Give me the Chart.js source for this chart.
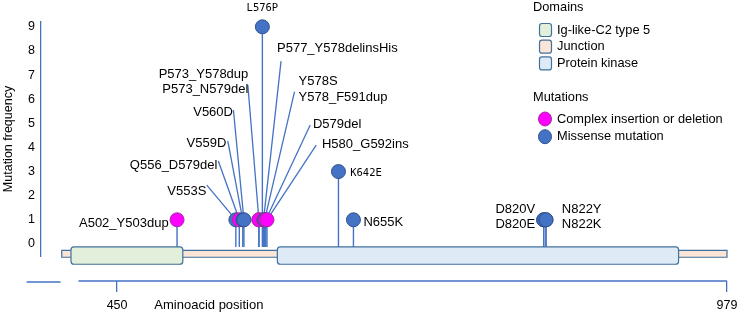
<!DOCTYPE html>
<html><head><meta charset="utf-8">
<script src="https://cdn.jsdelivr.net/npm/chart.js@4/dist/chart.umd.min.js"></script>
<style>html,body{margin:0;padding:0;background:#fff;}</style>
</head><body>
<canvas id="c" width="737" height="314"></canvas>
<script>
// ---------------- data ----------------
const mutationLabels = ["A502_Y503dup","V553S","Q556_D579del","V559D","V560D","P573_N579del","P573_Y578dup","L576P","P577_Y578delinsHis","Y578_F591dup","Y578S","D579del","H580_G592ins","K642E","N655K","D820V","D820E","N822Y","N822K"];
const mutationPositions = [502,553,556,559,560,573,573,576,577,578,578,579,580,642,655,820,820,822,822];
const mutationFrequency = [1,1,1,1,1,1,1,9,1,1,1,1,1,3,1,1,1,1,1];
const mutationTypes = ["complex","missense","complex","missense","missense","complex","complex","missense","complex","complex","missense","complex","complex","missense","missense","missense","missense","missense","missense"];
const typeKeys = ["complex","missense"];
const typeNames = ["Complex insertion or deletion","Missense mutation"];
const domainNames = ["Ig-like-C2 type 5","Junction","Protein kinase"];
const domainStart = [410, 402, 589];
const domainEnd = [507, 979, 937];
const yTickValues = [0,1,2,3,4,5,6,7,8,9];
const xTickValues = [450, 979];

// ---------------- styles / layout ----------------
const BLUE = '#4472C4';
const typeFill = {complex:'#FF00FF', missense:'#4472C4'};
const typeEdge = {complex:'#A52AA5', missense:'#2F528F'};
const domainFill = ['#E2EFDA','#FBE5D6','#DEEBF7'];
const domainEdge = '#41719C';
const FONT = '"Liberation Sans", Arial, sans-serif';
const MONO = '"DejaVu Sans Mono", monospace';
// label annotation placement in data coordinates (aa position, frequency)
const labelPlacement = [
  {lines:["L576P"], at:[576, 9.78], align:'center', mono:true},
  {lines:["P577_Y578delinsHis"], at:[588.7, 8.12], align:'left', leader:[592.2, 7.58], target:"P577_Y578delinsHis"},
  {lines:["P573_Y578dup","P573_N579del"], at:[563.8, 7.04], align:'right', leader:[563.4, 6.59], target:"P573_N579del"},
  {lines:["V560D"], at:[550.5, 5.44], align:'right', leader:[550.9, 5.55], target:"V560D"},
  {lines:["V559D"], at:[544.7, 4.17], align:'right', leader:[546.0, 4.27], target:"V559D"},
  {lines:["Q556_D579del"], at:[536.9, 3.27], align:'right', leader:[537.8, 3.44], target:"Q556_D579del"},
  {lines:["V553S"], at:[527.4, 2.19], align:'right', leader:[527.8, 2.44], target:"V553S"},
  {lines:["Y578S","Y578_F591dup"], at:[607.4, 6.72], align:'left', leader:[603.9, 6.31], target:"Y578S"},
  {lines:["D579del"], at:[619.9, 4.97], align:'left', leader:[617.5, 4.93], target:"D579del"},
  {lines:["H580_G592ins"], at:[627.7, 4.14], align:'left', leader:[622.7, 4.10], target:"H580_G592ins"},
  {lines:["K642E"], at:[652.2, 2.93], align:'left', mono:true},
  {lines:["N655K"], at:[663.7, 0.88], align:'left'},
  {lines:["A502_Y503dup"], at:[494.7, 0.83], align:'right'},
  {lines:["D820V","D820E"], at:[812.6, 1.43], align:'right'},
  {lines:["N822Y","N822K"], at:[835.7, 1.43], align:'left'}
];

function rr(ctx, x, y, w, h, r){
  ctx.beginPath();
  ctx.moveTo(x+r, y); ctx.lineTo(x+w-r, y); ctx.quadraticCurveTo(x+w, y, x+w, y+r);
  ctx.lineTo(x+w, y+h-r); ctx.quadraticCurveTo(x+w, y+h, x+w-r, y+h);
  ctx.lineTo(x+r, y+h); ctx.quadraticCurveTo(x, y+h, x, y+h-r);
  ctx.lineTo(x, y+r); ctx.quadraticCurveTo(x, y, x+r, y); ctx.closePath();
}

const lollipopPlugin = {
  id:'lollipop',
  beforeDatasetsDraw(chart){
    const ctx = chart.ctx, xs = chart.scales.x, ys = chart.scales.y;
    const y0 = ys.getPixelForValue(0);
    ctx.save();
    // stems
    ctx.strokeStyle = BLUE; ctx.lineWidth = 1.4;
    mutationPositions.forEach((p,i)=>{
      const px = xs.getPixelForValue(p), py = ys.getPixelForValue(mutationFrequency[i]);
      ctx.beginPath(); ctx.moveTo(px, py); ctx.lineTo(px, y0+3); ctx.stroke();
    });
    // leaders
    ctx.lineWidth = 1.3;
    labelPlacement.forEach(g=>{
      if(!g.leader) return;
      const k = mutationLabels.indexOf(g.target);
      ctx.beginPath();
      ctx.moveTo(xs.getPixelForValue(g.leader[0]), ys.getPixelForValue(g.leader[1]));
      ctx.lineTo(xs.getPixelForValue(mutationPositions[k]), ys.getPixelForValue(mutationFrequency[k]));
      ctx.stroke();
    });
    // track: backbone (Junction) then domain boxes
    ctx.lineWidth = 1.2; ctx.strokeStyle = domainEdge;
    const j = domainNames.indexOf('Junction');
    const b1 = xs.getPixelForValue(domainStart[j]), b2 = xs.getPixelForValue(domainEnd[j]);
    ctx.fillStyle = domainFill[j];
    ctx.beginPath(); ctx.rect(b1, y0+6.5, b2-b1, 6.8); ctx.fill(); ctx.stroke();
    domainNames.forEach((n,i)=>{
      if(i===j) return;
      const a = xs.getPixelForValue(domainStart[i]), b = xs.getPixelForValue(domainEnd[i]);
      ctx.fillStyle = domainFill[i];
      rr(ctx, a, y0+3, b-a, 17.3, 3); ctx.fill(); ctx.stroke();
    });
    ctx.restore();
  },
  afterDatasetsDraw(chart){
    const ctx = chart.ctx, xs = chart.scales.x, ys = chart.scales.y;
    ctx.save();
    ctx.fillStyle = '#000'; ctx.textBaseline = 'middle';
    labelPlacement.forEach(g=>{
      ctx.font = g.mono ? '10.5px '+MONO : '13px '+FONT;
      ctx.textAlign = g.align;
      const px = xs.getPixelForValue(g.at[0]), py = ys.getPixelForValue(g.at[1]);
      g.lines.forEach((t,li)=> ctx.fillText(t, px, py + li*15.3));
    });
    // bottom axis line pieces and title
    const top = xs.top;
    ctx.strokeStyle = BLUE; ctx.lineWidth = 1.3;
    ctx.beginPath(); ctx.moveTo(xs.getPixelForValue(416.5), top); ctx.lineTo(xs.getPixelForValue(979), top); ctx.stroke();
    ctx.beginPath(); ctx.moveTo(xs.getPixelForValue(371.5), top+1); ctx.lineTo(xs.getPixelForValue(401), top+1); ctx.stroke();
    ctx.font = '13px '+FONT; ctx.textAlign = 'left';
    ctx.fillText('Aminoacid position', xs.getPixelForValue(482.3), top+24.5);
    // legend
    const lx = 533;
    ctx.font = '12.8px '+FONT;
    ctx.fillText('Domains', lx, 7);
    domainNames.forEach((n,i)=>{
      const yc = 30 + i*16.7;
      ctx.fillStyle = domainFill[i]; ctx.strokeStyle = domainEdge; ctx.lineWidth = 1.2;
      rr(ctx, lx+6.5, yc-6.5, 12, 13, 2.5); ctx.fill(); ctx.stroke();
      ctx.fillStyle = '#000'; ctx.fillText(n, lx+24, yc);
    });
    ctx.fillText('Mutations', lx, 97);
    typeKeys.forEach((k,i)=>{
      const yc = 119 + i*17.7;
      ctx.fillStyle = typeFill[k]; ctx.strokeStyle = typeEdge[k]; ctx.lineWidth = 1;
      ctx.beginPath(); ctx.ellipse(lx+12, yc, 6.5, 7, 0, 0, Math.PI*2); ctx.fill(); ctx.stroke();
      ctx.fillStyle = '#000'; ctx.fillText(typeNames[i], lx+24, yc);
    });
    ctx.restore();
  }
};

new Chart(document.getElementById('c'), {
  type:'scatter',
  data:{datasets:[{
    data: mutationPositions.map((p,i)=>({x:p, y:mutationFrequency[i]})),
    pointRadius:7, pointHoverRadius:7,
    backgroundColor: c => typeFill[mutationTypes[c.dataIndex]],
    borderColor: c => typeEdge[mutationTypes[c.dataIndex]],
    borderWidth:1, clip:false
  }]},
  options:{
    responsive:false, animation:false, events:[],
    layout:{padding:{top:22, right:10, left:0, bottom:0}},
    plugins:{legend:{display:false}, tooltip:{enabled:false}},
    scales:{
      x:{type:'linear', position:'bottom', weight:1, min:384, max:979,
        afterBuildTicks: s => { s.ticks = xTickValues.map(v=>({value:v})); },
        afterFit: s => { s.height = 33; s.paddingLeft = 0; s.paddingRight = 0; },
        border:{display:false},
        grid:{display:true, drawOnChartArea:false, drawTicks:true, tickLength:11, color:BLUE, lineWidth:1.3},
        ticks:{padding:6, color:'#000', font:{family:FONT, size:12.5}, autoSkip:false, maxRotation:0}},
      gap:{type:'linear', position:'bottom', weight:0, display:true,
        afterFit: s => { s.height = 25; },
        grid:{display:false, drawTicks:false}, border:{display:false}, ticks:{display:false}},
      y:{type:'linear', min:-0.5, max:9.2,
        afterBuildTicks: s => { s.ticks = yTickValues.map(v=>({value:v})); },
        afterFit: s => { s.width = 41; },
        border:{display:true, color:BLUE, width:1.3},
        grid:{display:false, drawTicks:false},
        ticks:{padding:6, color:'#000', font:{family:FONT, size:12.5}},
        title:{display:true, text:'Mutation frequency', color:'#000', font:{family:FONT, size:12.5}, padding:{top:1, bottom:0}}}
    }
  },
  plugins:[lollipopPlugin]
});
</script>
</body></html>
